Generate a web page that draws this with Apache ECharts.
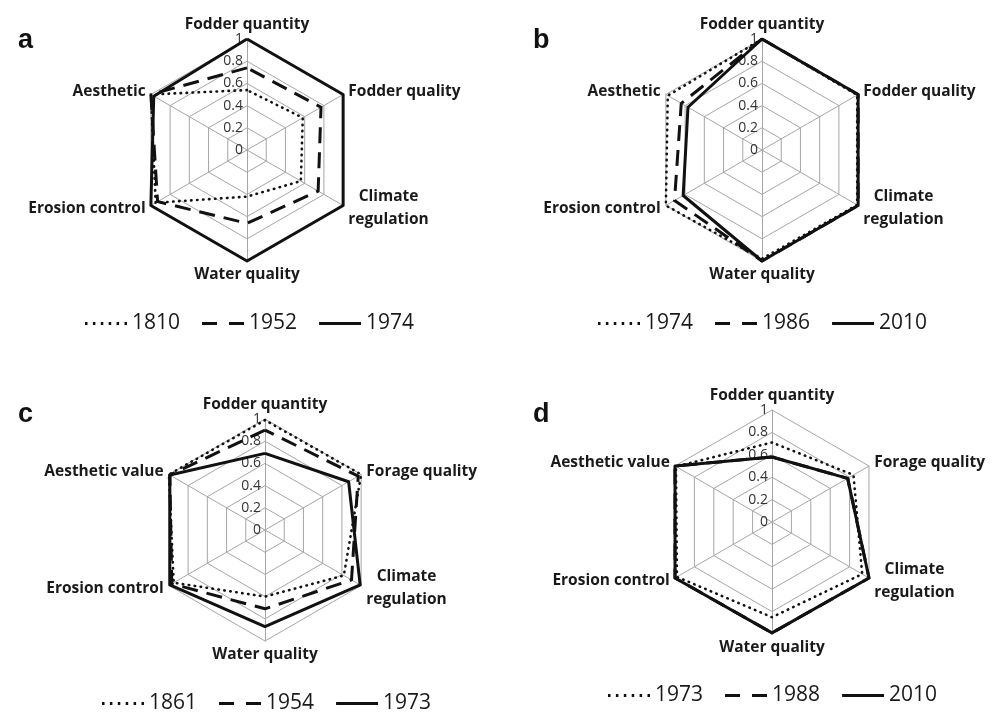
<!DOCTYPE html>
<html>
<head>
<meta charset="utf-8">
<script src="https://cdn.jsdelivr.net/npm/echarts@6/dist/echarts.min.js"></script>
<style>
  html, body { margin: 0; padding: 0; background: #fff; }
  #main { width: 1002px; height: 714px; }
</style>
</head>
<body>
<div id="main"></div>
<script>
// axis names per panel (clockwise from top)
var namesAB = ['Fodder quantity', 'Fodder quality', 'Climate\nregulation', 'Water quality', 'Erosion control', 'Aesthetic'];
var namesCD = ['Fodder quantity', 'Forage quality', 'Climate\nregulation', 'Water quality', 'Erosion control', 'Aesthetic value'];
var tickMax = 1;

// panel a
var yearsA = ['1810', '1952', '1974'];
var a1810 = [0.54, 0.58, 0.56, 0.42, 0.95, 1.0];
var a1952 = [0.74, 0.77, 0.74, 0.66, 0.93, 1.0];
var a1974 = [1.0, 1.0, 1.0, 1.0, 1.0, 0.97];

// panel b
var yearsB = ['1974', '1986', '2010'];
var b1974 = [1.0, 0.99, 0.99, 0.98, 1.0, 0.98];
var b1986 = [1.0, 1.0, 1.0, 1.0, 0.91, 0.84];
var b2010 = [1.0, 1.0, 1.0, 1.0, 0.82, 0.77];

// panel c
var yearsC = ['1861', '1954', '1973'];
var c1861 = [0.99, 1.0, 0.82, 0.6, 0.95, 1.0];
var c1954 = [0.9, 0.97, 0.9, 0.71, 0.97, 0.99];
var c1973 = [0.69, 0.87, 0.99, 0.87, 0.99, 0.99];

// panel d
var yearsD = ['1973', '1988', '2010'];
var d1973 = [0.71, 0.84, 0.93, 0.85, 0.98, 0.99];
var d1988 = [0.58, 0.78, 1.0, 0.99, 1.0, 1.0];
var d2010 = [0.58, 0.78, 1.0, 0.99, 1.0, 1.0];

var panels = [
  {letter: 'a', names: namesAB, years: yearsA, vals: [a1810, a1952, a1974], cx: 247, cy: 150, r: 111, lx: 13, ly: 22, legLeft: 80, legTop: 308},
  {letter: 'b', names: namesAB, years: yearsB, vals: [b1974, b1986, b2010], cx: 762, cy: 150, r: 111, lx: 528, ly: 22, legLeft: 593, legTop: 308},
  {letter: 'c', names: namesCD, years: yearsC, vals: [c1861, c1954, c1973], cx: 265, cy: 530, r: 111, lx: 13, ly: 396, legLeft: 97, legTop: 688},
  {letter: 'd', names: namesCD, years: yearsD, vals: [d1973, d1988, d2010], cx: 772, cy: 522, r: 112, lx: 528, ly: 396, legLeft: 603, legTop: 680}
];

// echarts lays indicators out counter-clockwise, so reorder the clockwise lists
var order = [0, 5, 4, 3, 2, 1];
function reorder(arr) { return order.map(function (k) { return arr[k]; }); }

var lineTypes = [
  {type: [0.5, 5.5], width: 2.6, cap: 'round'},
  {type: [16, 9], width: 3, cap: 'butt'},
  {type: 'solid', width: 3, cap: 'butt'}
];
var icons = [
  'path://M0,0h2.5v3h-2.5zM7.9,0h2.5v3h-2.5zM15.8,0h2.5v3h-2.5zM23.7,0h2.5v3h-2.5zM31.6,0h2.5v3h-2.5zM39.5,0h2.5v3h-2.5z',
  'path://M0,0h15v3h-15zM27,0h15v3h-15z',
  'path://M0,0h42v3h-42z'
];

var nameStyle = {fontFamily: 'Open Sans', fontWeight: 'bold', fontSize: 15.5, color: '#1a1a1a'};

var option = {
  backgroundColor: '#fff',
  animation: false,
  title: [],
  legend: [],
  radar: [],
  series: []
};

panels.forEach(function (p, pi) {
  option.title.push({
    text: p.letter, left: p.lx, top: p.ly,
    textStyle: {fontFamily: 'Liberation Sans', fontWeight: 'bold', fontSize: 27, color: '#111'}
  });
  option.radar.push({
    center: [p.cx, p.cy],
    radius: p.r,
    startAngle: 90,
    splitNumber: 5,
    shape: 'polygon',
    indicator: reorder(p.names).map(function (n, i) {
      var ind = {name: n, min: 0, max: tickMax};
      if (i === 0) ind.axisLabel = {show: true};
      return ind;
    }),
    axisName: Object.assign({}, nameStyle, {
      formatter: function (n) {
        return n.indexOf('\n') >= 0 ? n.split('\n').map(function (s) { return '{c|' + s + '}'; }).join('\n') : n;
      },
      rich: {c: Object.assign({align: 'center', lineHeight: 23}, nameStyle)}
    }),
    nameGap: 6,
    axisLine: {lineStyle: {color: '#a6a6a6', width: 1}},
    splitLine: {lineStyle: {color: '#a6a6a6', width: 1}},
    splitArea: {show: false},
    axisTick: {show: false},
    axisLabel: {show: false, fontFamily: 'Open Sans', fontSize: 14, color: '#333', margin: 4}
  });
  option.legend.push({
    left: p.legLeft, top: p.legTop,
    itemWidth: 42, itemHeight: 3, itemGap: 22,
    textStyle: {fontFamily: 'Open Sans', fontSize: 21, color: '#1a1a1a'},
    selectedMode: false,
    data: p.years.map(function (y, i) { return {name: y, icon: icons[i]}; })
  });
  option.series.push({
    type: 'radar',
    radarIndex: pi,
    symbol: 'none',
    z: 3,
    data: p.vals.map(function (v, i) {
      return {
        name: p.years[i], value: reorder(v),
        itemStyle: {color: '#111'},
        lineStyle: {color: '#111', width: lineTypes[i].width, type: lineTypes[i].type, cap: lineTypes[i].cap}
      };
    })
  });
});

var myChart = echarts.init(document.getElementById('main'));
myChart.setOption(option);
</script>
</body>
</html>
